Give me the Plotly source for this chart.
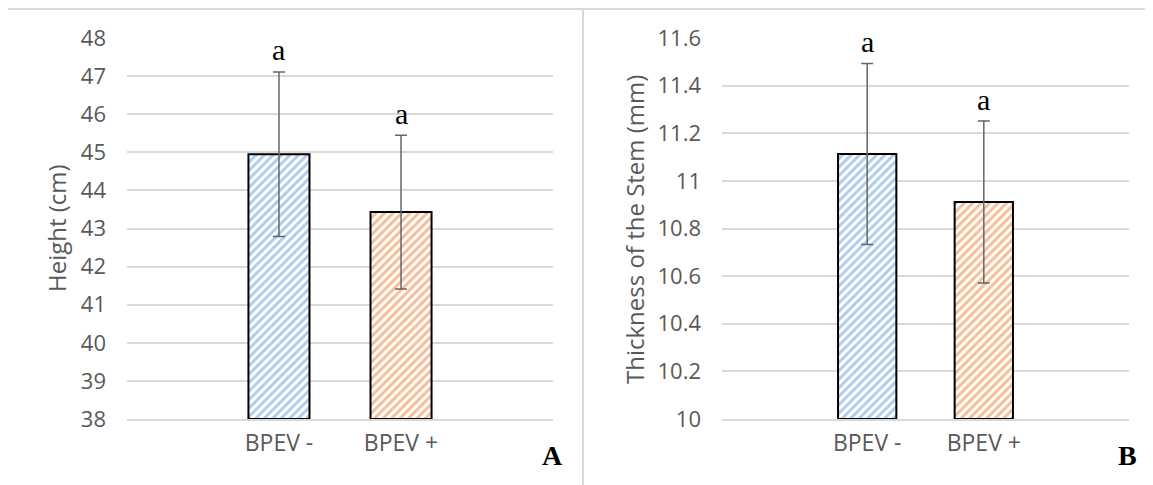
import plotly.graph_objects as go

# ---- data ----
categories = ["BPEV -", "BPEV +"]
height_mean = [44.95, 43.43]
height_err = [2.16, 2.02]
stem_mean = [11.113, 10.911]
stem_err = [0.38, 0.34]
letters_height = ["a", "a"]
letters_stem = ["a", "a"]
height_ticks = [38, 39, 40, 41, 42, 43, 44, 45, 46, 47, 48]
stem_ticks = [10, 10.2, 10.4, 10.6, 10.8, 11, 11.2, 11.4, 11.6]
stem_ticktext = ["10", "10.2", "10.4", "10.6", "10.8", "11", "11.2", "11.4", "11.6"]

W, H = 1153, 485
OFF = 8  # page body offset
colors = ["#5B9BD5", "#ED7D31"]
GRID = "#D9D9D9"
TXT = "#595959"
FONT = "Open Sans"
SERIF = "Liberation Serif"


def px(x):
    return (x - OFF) / W


def py(y):
    return 1 - (y - OFF) / H


fig = go.Figure()


def add_panel(xa, ya, means, errs, base, letters):
    xs = list(range(len(categories)))
    fig.add_trace(go.Bar(
        x=xs, y=[m - base for m in means], base=base,
        xaxis=xa, yaxis=ya, width=0.5,
        marker=dict(color="white", line=dict(color="black", width=2),
                    pattern=dict(shape="/", fgcolor=colors, bgcolor="white",
                                 size=6, solidity=0.5)),
        error_y=dict(type="data", array=errs, visible=True,
                     color="#666666", thickness=1.5, width=6),
        showlegend=False, hoverinfo="skip",
    ))
    for x, m, e, t in zip(xs, means, errs, letters):
        fig.add_annotation(x=x, y=m + e, xref=xa, yref=ya, text=t,
                           showarrow=False, xanchor="center", yanchor="middle", yshift=22,
                           font=dict(family=SERIF, size=30, color="black"))


add_panel("x", "y", height_mean, height_err, 38, letters_height)
add_panel("x2", "y2", stem_mean, stem_err, 10, letters_stem)

xrange = [-1.245, 2.245]
common_x = dict(range=xrange, tickvals=[0, 1], ticktext=categories, showgrid=False,
                showline=True, linecolor=GRID, linewidth=1.5, zeroline=False,
                tickfont=dict(family=FONT, size=23, color=TXT), ticks="",
                ticklabelstandoff=3, fixedrange=True, automargin=False)
common_y = dict(showgrid=True, gridcolor=GRID, gridwidth=1.5, zeroline=False,
                showline=False, ticks="", ticklabelstandoff=20, automargin=False,
                tickfont=dict(family=FONT, size=22, color=TXT), fixedrange=True)

ydom = [py(419), py(38)]
fig.update_layout(
    width=W, height=H, autosize=False,
    margin=dict(l=0, r=0, t=0, b=0, pad=0, autoexpand=False),
    paper_bgcolor="white", plot_bgcolor="white",
    xaxis=dict(domain=[px(127), px(553)], anchor="y", **common_x),
    yaxis=dict(domain=ydom, anchor="x", range=[38, 48], tickvals=height_ticks, **common_y),
    xaxis2=dict(domain=[px(722), px(1129)], anchor="y2", **common_x),
    yaxis2=dict(domain=ydom, anchor="x2", range=[10, 11.6], tickvals=stem_ticks,
                ticktext=stem_ticktext, **common_y),
)

# panel borders
fig.add_shape(type="rect", xref="paper", yref="paper", x0=px(6), x1=px(583),
              y0=-0.2, y1=py(9), line=dict(color=GRID, width=2), layer="below")
fig.add_shape(type="rect", xref="paper", yref="paper", x0=px(583), x1=1.2,
              y0=-0.2, y1=py(9), line=dict(color=GRID, width=2), layer="below")

# axis titles
fig.add_annotation(x=px(57), y=py(228), xref="paper", yref="paper",
                   text="Height (cm)", textangle=-90, showarrow=False,
                   xanchor="center", yanchor="middle",
                   font=dict(family=FONT, size=24, color=TXT))
fig.add_annotation(x=px(635), y=py(230), xref="paper", yref="paper",
                   text="Thickness of the Stem (mm)", textangle=-90, showarrow=False,
                   xanchor="center", yanchor="middle",
                   font=dict(family=FONT, size=24, color=TXT))

# panel letters
fig.add_annotation(x=px(552), y=py(455), xref="paper", yref="paper", text="<b>A</b>",
                   showarrow=False, xanchor="center", yanchor="middle",
                   font=dict(family=SERIF, size=28, color="black"))
fig.add_annotation(x=px(1127), y=py(455), xref="paper", yref="paper", text="<b>B</b>",
                   showarrow=False, xanchor="center", yanchor="middle",
                   font=dict(family=SERIF, size=28, color="black"))

fig.write_html("out.html")
